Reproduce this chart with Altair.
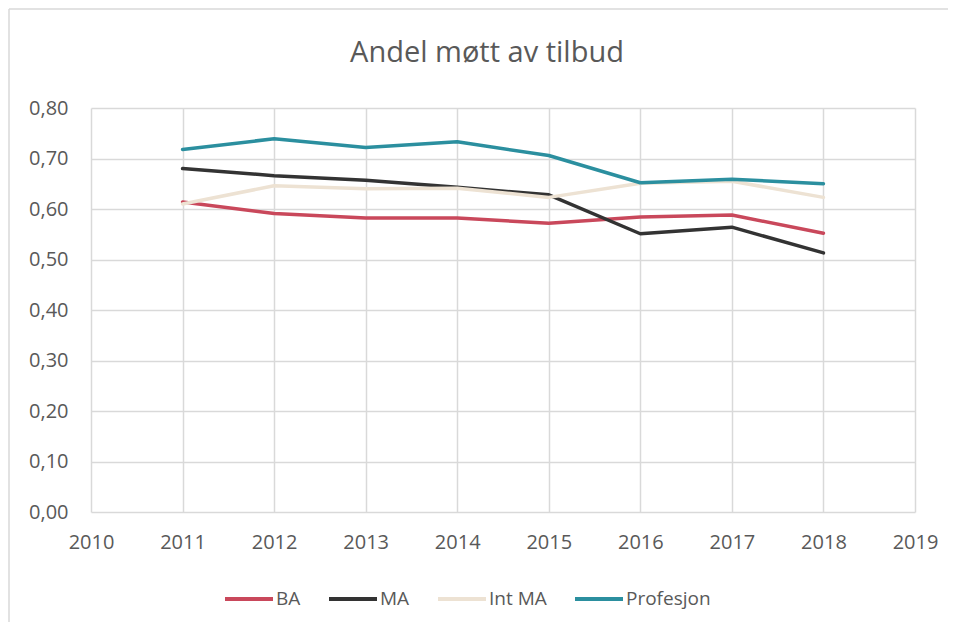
import altair as alt
import pandas as pd

years = [2011, 2012, 2013, 2014, 2015, 2016, 2017, 2018]
series_names = ["BA", "MA", "Int MA", "Profesjon"]
ba = [0.614, 0.591, 0.582, 0.582, 0.572, 0.584, 0.588, 0.552]
ma = [0.680, 0.666, 0.657, 0.643, 0.628, 0.551, 0.564, 0.513]
int_ma = [0.610, 0.646, 0.640, 0.641, 0.623, 0.651, 0.655, 0.623]
profesjon = [0.718, 0.739, 0.722, 0.733, 0.706, 0.652, 0.659, 0.650]
colors = ["#C9485B", "#333333", "#EDE2D3", "#2B8F9F"]
x_ticks = list(range(2010, 2020))
y_ticks = [0.0, 0.1, 0.2, 0.3, 0.4, 0.5, 0.6, 0.7, 0.8]
title_text = "Andel møtt av tilbud"

rows = []
for name, vals in zip(series_names, [ba, ma, int_ma, profesjon]):
    for yr, v in zip(years, vals):
        rows.append({"year": yr, "value": v, "series": name})
df = pd.DataFrame(rows)

FONT = "Open Sans"
W, H = 824, 404
PL, PT, PR, PB = 83, 100, 33, 110
one = pd.DataFrame({"t": [title_text]})

top_line = alt.Chart(one).mark_rule(stroke="#D9D9D9", strokeWidth=1.5).encode(
    x=alt.value(-PL + 1), x2=alt.value(W + PR), y=alt.value(-PT + 1))
left_line = alt.Chart(one).mark_rule(stroke="#D9D9D9", strokeWidth=1.5).encode(
    x=alt.value(-PL + 1), y=alt.value(-PT + 1), y2=alt.value(H + PB))

title = alt.Chart(one).mark_text(fontSize=29, font=FONT, color="#595959",
                                 align="center", baseline="alphabetic").encode(
    text="t:N", x=alt.value(W / 2 - 16), y=alt.value(-46))

lines = alt.Chart(df).mark_line(strokeWidth=3.5, strokeCap="round", strokeJoin="round").encode(
    x=alt.X("year:Q",
            scale=alt.Scale(domain=[2010, 2019], nice=False, zero=False),
            axis=alt.Axis(values=x_ticks, format="d", title=None, grid=True,
                          gridColor="#D9D9D9", gridWidth=1.5, domain=False, ticks=False,
                          labelFlush=False,
                          labelPadding=20, labelFontSize=20, labelColor="#595959",
                          labelFont=FONT)),
    y=alt.Y("value:Q",
            scale=alt.Scale(domain=[0, 0.8], nice=False),
            axis=alt.Axis(values=y_ticks, title=None, grid=True,
                          labelExpr="replace(format(datum.value, '.2f'), '.', ',')",
                          gridColor="#D9D9D9", gridWidth=1.5, domain=False, ticks=False,
                          labelPadding=23, labelFontSize=20, labelColor="#595959",
                          labelFont=FONT)),
    color=alt.Color("series:N",
                    scale=alt.Scale(domain=series_names, range=colors),
                    sort=series_names,
                    legend=alt.Legend(orient="none", legendX=132, legendY=465,
                                      direction="horizontal", title=None,
                                      symbolType="stroke", symbolSize=2304,
                                      symbolStrokeWidth=4, labelFontSize=19,
                                      labelColor="#595959", labelFont=FONT,
                                      labelOffset=1, columnPadding=20)),
    order=alt.Order("year:Q"),
)

chart = alt.layer(top_line, left_line, title, lines).properties(
    width=W, height=H,
    autosize=alt.AutoSizeParams(type="none"),
    padding={"left": PL, "top": PT, "right": PR, "bottom": PB},
).configure_view(stroke=None)

chart.save("out.html", embed_options={"renderer": "svg", "actions": False})
